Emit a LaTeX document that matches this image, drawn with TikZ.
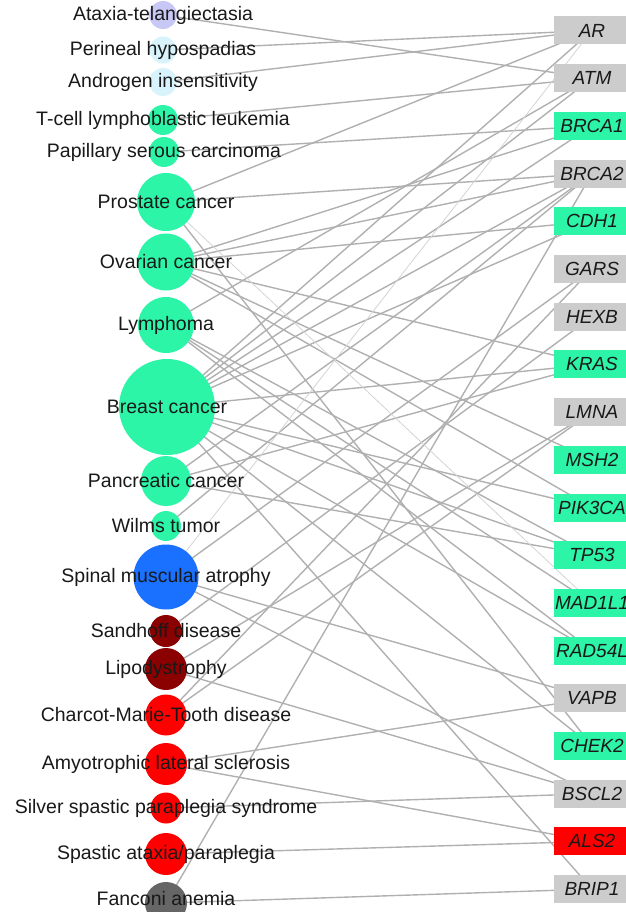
\documentclass[tikz,border=0pt]{standalone}
\usepackage{fontspec}
\setmainfont{Liberation Sans}
\usetikzlibrary{backgrounds}
\definecolor{dsAT}{HTML}{C8C8F6}
\definecolor{dsAndro}{HTML}{D8F3FB}
\definecolor{dsCancer}{HTML}{2CF5A8}
\definecolor{dsMuscle}{HTML}{1A70FF}
\definecolor{dsMetab}{HTML}{8B0000}
\definecolor{dsNeuro}{HTML}{FF0000}
\definecolor{dsBlood}{HTML}{666666}
\definecolor{gnGrey}{HTML}{CCCCCC}
\definecolor{lnGrey}{HTML}{B0B0B0}
\tikzset{
  disease/.style={circle, draw=none, inner sep=0pt},
  dlabel/.style={font=\fontsize{19.5}{22}\selectfont, text=black!90},
  gene/.style={draw=none, minimum width=76pt, minimum height=28pt, inner sep=0pt,
    font=\fontsize{19}{22}\selectfont\itshape, text=black!90},
  link/.style={lnGrey, line width=1.4pt},
  faint/.style={lnGrey!55, line width=0.8pt}
}
\begin{document}
\begin{tikzpicture}[x=1pt, y=-1pt]
  \useasboundingbox (0,0) rectangle (625,912);
  % disease nodes (left column)
  \node[disease, fill=dsAT, minimum size=28pt] (at) at (163,15) {};
  \node[disease, fill=dsAndro, minimum size=27pt] (ph) at (163,50) {};
  \node[disease, fill=dsAndro, minimum size=28pt] (ai) at (163,82) {};
  \node[disease, fill=dsCancer, minimum size=30pt] (tll) at (163,120) {};
  \node[disease, fill=dsCancer, minimum size=30pt] (psc) at (164,152) {};
  \node[disease, fill=dsCancer, minimum size=58pt] (pc) at (166,202) {};
  \node[disease, fill=dsCancer, minimum size=57pt] (oc) at (166,262) {};
  \node[disease, fill=dsCancer, minimum size=56pt] (ly) at (166,325) {};
  \node[disease, fill=dsCancer, minimum size=96pt] (bc) at (167,407) {};
  \node[disease, fill=dsCancer, minimum size=50pt] (pac) at (166,481) {};
  \node[disease, fill=dsCancer, minimum size=30pt] (wt) at (166,526) {};
  \node[disease, fill=dsMuscle, minimum size=65pt] (sma) at (166,577) {};
  \node[disease, fill=dsMetab, minimum size=32pt] (sd) at (166,631) {};
  \node[disease, fill=dsMetab, minimum size=42pt] (lipo) at (166,669) {};
  \node[disease, fill=dsNeuro, minimum size=41pt] (cmt) at (166,715) {};
  \node[disease, fill=dsNeuro, minimum size=42pt] (als) at (166,764) {};
  \node[disease, fill=dsNeuro, minimum size=31pt] (ssps) at (166,808) {};
  \node[disease, fill=dsNeuro, minimum size=42pt] (sap) at (166,854) {};
  \node[disease, fill=dsBlood, minimum size=42pt] (fa) at (166,903) {};
  % disease names, centred on the circles
  \node[dlabel] (atT) at (at.center) {Ataxia-telangiectasia};
  \node[dlabel] (phT) at (ph.center) {Perineal hypospadias};
  \node[dlabel] (aiT) at (ai.center) {Androgen insensitivity};
  \node[dlabel] (tllT) at (tll.center) {T-cell lymphoblastic leukemia};
  \node[dlabel] (pscT) at (psc.center) {Papillary serous carcinoma};
  \node[dlabel] (pcT) at (pc.center) {Prostate cancer};
  \node[dlabel] (ocT) at (oc.center) {Ovarian cancer};
  \node[dlabel] (lyT) at (ly.center) {Lymphoma};
  \node[dlabel] (bcT) at (bc.center) {Breast cancer};
  \node[dlabel] (pacT) at (pac.center) {Pancreatic cancer};
  \node[dlabel] (wtT) at (wt.center) {Wilms tumor};
  \node[dlabel] (smaT) at (sma.center) {Spinal muscular atrophy};
  \node[dlabel] (sdT) at (sd.center) {Sandhoff disease};
  \node[dlabel] (lipoT) at (lipo.center) {Lipodystrophy};
  \node[dlabel] (cmtT) at (cmt.center) {Charcot-Marie-Tooth disease};
  \node[dlabel] (alsT) at (als.center) {Amyotrophic lateral sclerosis};
  \node[dlabel] (sspsT) at (ssps.center) {Silver spastic paraplegia syndrome};
  \node[dlabel] (sapT) at (sap.center) {Spastic ataxia/paraplegia};
  \node[dlabel] (faT) at ([yshift=4pt]fa.center) {Fanconi anemia};
  % gene boxes (right column)
  \foreach \g/\c [count=\i from 0] in {AR/gnGrey, ATM/gnGrey, BRCA1/dsCancer,
      BRCA2/gnGrey, CDH1/dsCancer, GARS/gnGrey, HEXB/gnGrey, KRAS/dsCancer,
      LMNA/gnGrey, MSH2/dsCancer, PIK3CA/dsCancer, TP53/dsCancer,
      MAD1L1/dsCancer, RAD54L/dsCancer, VAPB/gnGrey, CHEK2/dsCancer,
      BSCL2/gnGrey, ALS2/dsNeuro, BRIP1/gnGrey}
    \node[gene, fill=\c] (\g) at (592,30.5+47.7*\i) {\g};
  % disease--gene links
  \begin{scope}[on background layer]
    \foreach \d/\g in {at/ATM, ph/AR, ai/AR, tll/ATM, psc/BRCA1,
        pc/AR, pc/BRCA2, pc/CHEK2,
        oc/BRCA1, oc/BRCA2, oc/CDH1, oc/KRAS, oc/PIK3CA, oc/MSH2,
        ly/ATM, ly/MAD1L1, ly/RAD54L, ly/TP53,
        bc/AR, bc/ATM, bc/BRCA1, bc/BRCA2, bc/CDH1, bc/KRAS, bc/PIK3CA,
        bc/TP53, bc/RAD54L, bc/CHEK2, bc/BRIP1,
        pac/BRCA2, pac/KRAS, pac/TP53, wt/BRCA2,
        sma/GARS, sma/VAPB, sma/BSCL2, sd/HEXB,
        lipo/LMNA, lipo/BSCL2, cmt/GARS, cmt/LMNA,
        als/VAPB, als/ALS2, ssps/BSCL2, sap/ALS2, fa/BRCA2, fa/BRIP1}
      \draw[link] (\d.center) -- (\g.center);
    \foreach \d/\g in {sma/AR, pc/MAD1L1}
      \draw[faint] (\d.center) -- (\g.center);
  \end{scope}
\end{tikzpicture}
\end{document}
